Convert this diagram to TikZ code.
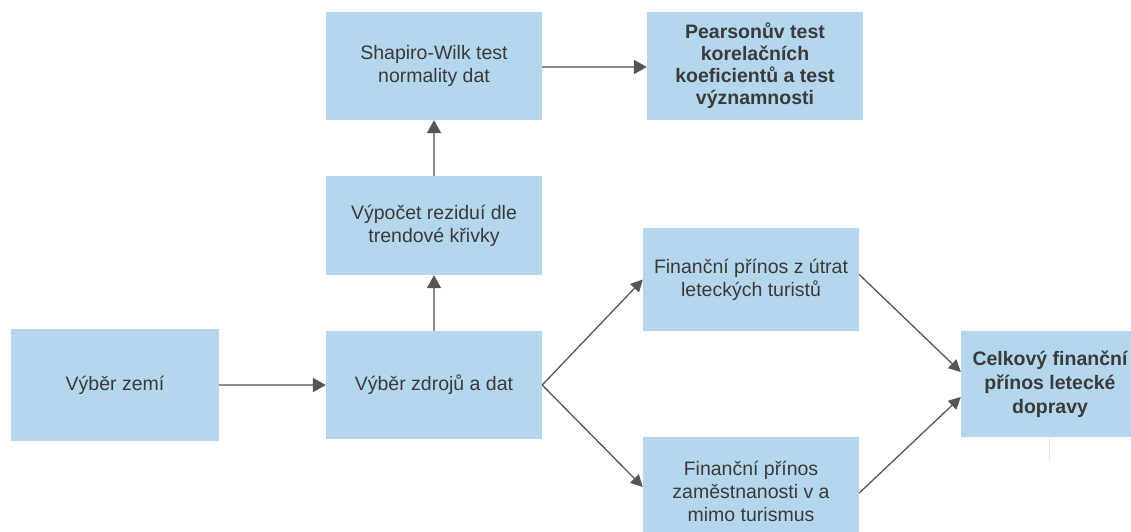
\documentclass[tikz,border=0pt]{standalone}
\usepackage{fontspec}
\setmainfont{Liberation Sans}
\usetikzlibrary{arrows.meta}

\definecolor{boxblue}{HTML}{B4D7EE}
\definecolor{txtgray}{HTML}{3A3A3A}
\definecolor{linegray}{HTML}{8C8C8C}
\definecolor{headgray}{HTML}{555555}
\definecolor{faintblue}{HTML}{DDECF7}

\tikzset{
  blok/.style={fill=boxblue, text=txtgray, align=center, inner sep=0pt,
    minimum width=216pt, minimum height=108pt,
    font=\fontsize{19.5}{23}\selectfont},
  sipka/.style={draw=linegray, line width=2pt,
    -{Triangle[length=13pt,width=14pt,color=headgray]}},
  sipkadiag/.style={draw=headgray, line width=1.3pt,
    -{Triangle[length=12pt,width=12pt]}}
}

\begin{document}
\begin{tikzpicture}[x=1pt,y=-1pt]

\useasboundingbox (0,0) rectangle (1131,531);

\node[blok,minimum width=208pt,minimum height=112pt]
(ZE)
at (115,385)
{Výběr zemí};

\node[blok]
(ZD)
at (434,385)
{Výběr zdrojů a dat};

\node[blok,minimum height=99pt]
(VY)
at (434,225.5)
{Výpočet reziduí dle\\trendové křivky};

\node[blok]
(SW)
at (434,66)
{Shapiro-Wilk test\\normality dat};

\node[blok,font=\fontsize{19.5}{22}\selectfont\bfseries]
(PE)
at (755,66)
{Pearsonův test\\korelačních\\koeficientů a test\\významnosti};

\node[blok,minimum height=103pt]
(FT)
at (751,279.5)
{Finanční přínos z útrat\\leteckých turistů};

\node[blok]
(FB)
at (751,491)
{Finanční přínos\\zaměstnanosti v a\\mimo turismus};

\node[blok,minimum width=178pt,minimum height=106pt,
  font=\fontsize{19.5}{24}\selectfont\bfseries]
(CE)
at (1050,384)
{Celkový finanční\\přínos letecké\\dopravy};

\coordinate (CEdole) at (1049,462);

\draw[sipka] (ZE) -- (ZD);
\draw[sipka] (ZD) -- (VY);
\draw[sipka] (VY) -- (SW);
\draw[sipka] (SW.east |- 0,67) -- (PE.west |- 0,67);

\draw[sipkadiag] (ZD.east) -- (FT.west);
\draw[sipkadiag] (ZD.east) -- ([yshift=4pt]FB.west);
\draw[sipkadiag] ([yshift=5pt]FT.east) -- ([yshift=12pt]CE.west);
\draw[sipkadiag] ([yshift=-2pt]FB.east) -- ([yshift=-13pt]CE.west);

\draw[faintblue,line width=1pt] (CE.south -| CEdole) -- (CEdole);

\end{tikzpicture}
\end{document}
